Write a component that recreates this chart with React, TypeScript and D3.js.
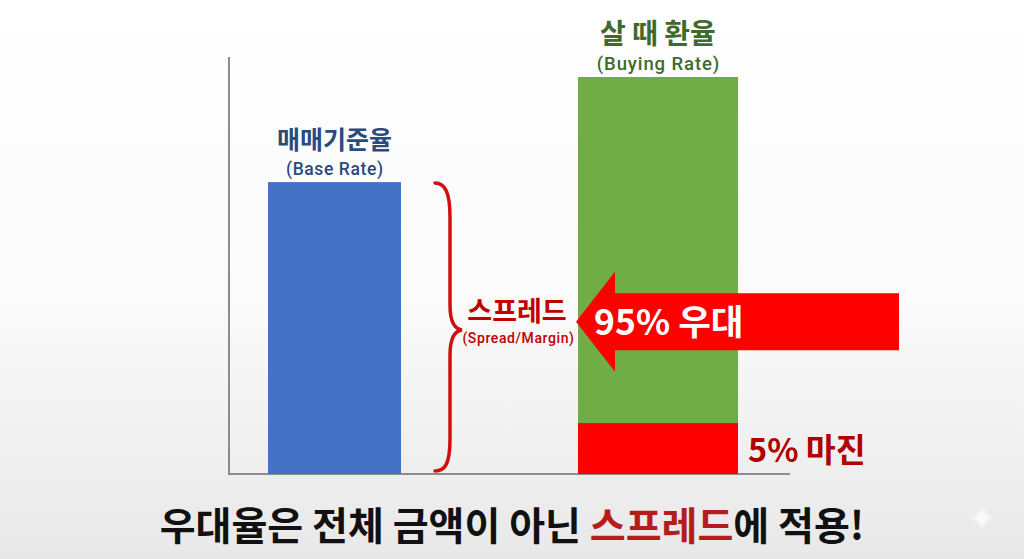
import React from "react";
import * as d3 from "d3";

const categories = ["매매기준율", "살 때 환율"];
const subLabels = ["(Base Rate)", "(Buying Rate)"];
const values = [70, 95.2];
const marginValue = 12.2;
const arrowLevel = 36.5;
const spreadLabel = "스프레드";
const spreadSub = "(Spread/Margin)";
const preferLabel = "95% 우대";
const marginLabel = "5% 마진";
const bottomParts = [
  { t: "우대율은 전체 금액이 아닌 ", red: false },
  { t: "스프레드", red: true },
  { t: "에 적용!", red: false },
];

const W = 1024, H = 559;
const KFONT = "'Noto Sans CJK KR', 'Noto Sans', sans-serif";
const EFONT = "Roboto, 'Liberation Sans', sans-serif";

export default function App() {
  const y = d3.scaleLinear().domain([0, 100]).range([474, 57]);
  const xCenter = d3.scalePoint<string>().domain(categories).range([334.5, 658]);
  const barW = [133, 160];
  const labelColors = ["#2B4A7E", "#3E6B2C"];
  const barColors = ["#4472C4", "#70AD47"];
  const titleSize = [25, 28];
  const subSize = [17.5, 18.5];
  const subSpacing = [0.6, 0.9];

  const blueTop = y(values[0]);
  const base = y(0);
  // brace
  const bx = 435, sx = 450, px = 462;
  const midY = (blueTop + base) / 2 + 2;
  const brace = d3.path();
  brace.moveTo(bx, blueTop + 1);
  brace.bezierCurveTo(bx + 10, blueTop + 1, sx, blueTop + 10, sx, blueTop + 35);
  brace.lineTo(sx, midY - 25);
  brace.bezierCurveTo(sx, midY - 8, sx + 4, midY - 1, px, midY);
  brace.bezierCurveTo(sx + 4, midY + 1, sx, midY + 8, sx, midY + 25);
  brace.lineTo(sx, base - 35);
  brace.bezierCurveTo(sx, base - 10, bx + 10, base - 3, bx, base - 3);

  // arrow
  const ay = y(arrowLevel);
  const tipX = 576, headX = 615, endX = 899;
  const bodyH = 28.5, headH = 50;
  const arrow = [
    [tipX, ay], [headX, ay - headH], [headX, ay - bodyH], [endX, ay - bodyH],
    [endX, ay + bodyH], [headX, ay + bodyH], [headX, ay + headH],
  ];
  const arrowPath = d3.line()(arrow as [number, number][]) + "Z";

  const gx = xCenter(categories[1])!;
  return (
    <svg width={W} height={H} style={{ position: "absolute", left: 0, top: 0 }}>
      <defs>
        <linearGradient id="bg" x1="0" y1="0" x2="0" y2="1">
          <stop offset="0" stopColor="#ffffff" />
          <stop offset="0.55" stopColor="#fafafa" />
          <stop offset="1" stopColor="#e8e8e8" />
        </linearGradient>
        <radialGradient id="spark" cx="0.5" cy="0.5" r="0.5">
          <stop offset="0" stopColor="#ffffff" stopOpacity="1" />
          <stop offset="1" stopColor="#ffffff" stopOpacity="0.5" />
        </radialGradient>
        <filter id="blur" x="-50%" y="-50%" width="200%" height="200%">
          <feGaussianBlur stdDeviation="1.5" />
        </filter>
      </defs>
      <rect x={0} y={0} width={W} height={H} fill="url(#bg)" />
      {/* axes */}
      <line x1={229} x2={229} y1={57} y2={base} stroke="#8c8c8c" strokeWidth={2} />
      <line x1={228} x2={790} y1={base} y2={base} stroke="#8c8c8c" strokeWidth={2} />
      {/* bars */}
      {categories.map((c, i) => (
        <rect key={c} x={xCenter(c)! - barW[i] / 2} y={y(values[i])} width={barW[i]}
          height={base - y(values[i])} fill={barColors[i]} />
      ))}
      <rect x={gx - barW[1] / 2} y={y(marginValue)} width={barW[1]} height={base - y(marginValue)} fill="#FF0000" />
      {/* category labels */}
      {categories.map((c, i) => (
        <g key={c + "l"}>
          <text x={xCenter(c)!} y={y(values[i]) - 33} textAnchor="middle" fontFamily={KFONT}
            fontWeight={700} fontSize={titleSize[i]} fill={labelColors[i]}>{c}</text>
          <text x={xCenter(c)! + subSpacing[i] / 2} y={y(values[i]) - 7.5} textAnchor="middle" fontFamily={EFONT}
            fontWeight={500} fontSize={subSize[i]} letterSpacing={subSpacing[i]} fill={labelColors[i]}>{subLabels[i]}</text>
        </g>
      ))}
      {/* brace */}
      <path d={brace.toString()} fill="none" stroke="#D01010" strokeWidth={3.5} strokeLinecap="round" />
      <text x={517} y={321} textAnchor="middle" fontFamily={KFONT} fontWeight={700} fontSize={27} fill="#C00000">{spreadLabel}</text>
      <text x={518.5} y={343} textAnchor="middle" fontFamily={EFONT} fontWeight={500} fontSize={14} letterSpacing={0.6} fill="#C00000">{spreadSub}</text>
      {/* arrow */}
      <path d={arrowPath} fill="#FF0000" />
      <text x={594} y={ay + 13} fontFamily={KFONT} fontWeight={700} fontSize={35.5} fill="#ffffff">{preferLabel}</text>
      <text x={748} y={462} fontFamily={KFONT} fontWeight={700} fontSize={32.5} fill="#B00000">{marginLabel}</text>
      {/* bottom caption */}
      <text x={512} y={540} textAnchor="middle" fontFamily={KFONT} fontWeight={700} fontSize={39} fill="#000000">
        {bottomParts.map((p, i) => (
          <tspan key={i} fill={p.red ? "#B71C1C" : "#111111"}>{p.t}</tspan>
        ))}
      </text>
      {/* sparkle */}
      <path d="M982,505 Q984,516 995,518 Q984,520 982,531 Q980,520 969,518 Q980,516 982,505 Z" fill="url(#spark)" opacity={0.85} filter="url(#blur)" />
    </svg>
  );
}
